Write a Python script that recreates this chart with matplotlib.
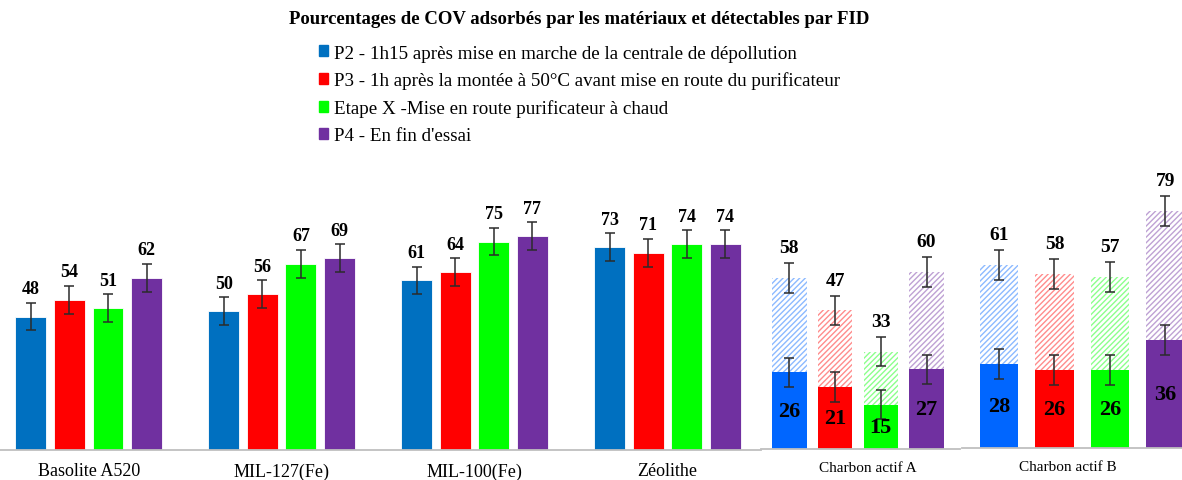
import matplotlib.pyplot as plt
from matplotlib.patches import Patch

plt.rcParams['font.family'] = ['Liberation Serif', 'DejaVu Serif']
plt.rcParams['hatch.linewidth'] = 1.0

# pourcentages par matériau et par prélèvement
materials = ['Basolite A520', 'MIL-127(Fe)', 'MIL-100(Fe)', 'Zéolithe']
p2 = [48, 50, 61, 73]
p3 = [54, 56, 64, 71]
etape_x = [51, 67, 75, 74]
p4 = [62, 69, 77, 74]

# charbons actifs : total adsorbé et part détectable par FID
charbons = ['Charbon actif A', 'Charbon actif B']
charbon_total = [[58, 47, 33, 60], [61, 58, 57, 79]]
charbon_fid = [[26, 21, 15, 27], [28, 26, 26, 36]]
err = 5

series = [
    'P2 - 1h15 après mise en marche de la centrale de dépollution',
    'P3 - 1h après la montée à 50°C avant mise en route du purificateur',
    'Etape X -Mise en route purificateur à chaud',
    "P4 - En fin d'essai",
]
colors = ['#0070C0', '#FF0000', '#00FF00', '#7030A0']
colors_charbon = ['#0066FF', '#FF0000', '#00FF00', '#7030A0']

W, H = 1182, 481
fig = plt.figure(figsize=(W / 100, H / 100), dpi=100)


def add_panel(x0, x1, base, top):
    ax = fig.add_axes([x0 / W, (H - base) / H, (x1 - x0) / W, (base - top) / H])
    for s in ['left', 'right', 'top']:
        ax.spines[s].set_visible(False)
    ax.spines['bottom'].set_color('#BFBFBF')
    ax.spines['bottom'].set_linewidth(1.3)
    ax.set_yticks([])
    ax.tick_params(axis='x', length=0, pad=9)
    ax.patch.set_alpha(0)
    return ax


ebar = dict(fmt='none', ecolor='#2b2b2b', elinewidth=1.1, capsize=3.5, capthick=1.1)

# matériaux poreux
ax = add_panel(0, 761, 451, 160)
offsets = [-0.3, -0.1, 0.1, 0.3]
for vals, off, c in zip([p2, p3, etape_x, p4], offsets, colors):
    xs = [i + off for i in range(len(materials))]
    ax.bar(xs, vals, 0.16, color=c, edgecolor='white', linewidth=0.6)
    ax.errorbar(xs, vals, yerr=err, **ebar)
    for x, v in zip(xs, vals):
        ax.annotate(str(v), (x, v + err), xytext=(0, 4), textcoords='offset points',
                    ha='center', va='bottom', fontsize=13, fontweight='bold')
ax.set_xlim(-0.46, 3.485)
ax.set_ylim(0, 104.7)
ax.set_xticks(range(len(materials)))
ax.set_xticklabels(materials, fontsize=13)

# charbons actifs
panels = [(761, 960, 450, 160, (-0.62, 3.73), 98.3, 0.755, 1.72),
          (962, 1182, 449, 160, (-0.667, 3.30), 96.3, 0.69, 1.24)]
for name, totals, fids, (x0, x1, base, top, xl, ymax, bw, lx) in zip(
        charbons, charbon_total, charbon_fid, panels):
    ax = add_panel(x0, x1, base, top)
    xs = list(range(len(totals)))
    for x, t, f, c in zip(xs, totals, fids, colors_charbon):
        ax.bar(x, t, bw, color='white', edgecolor=c, hatch='//////', linewidth=0, alpha=0.45)
        ax.bar(x, f, bw, color=c, linewidth=0)
        ax.errorbar([x, x], [t, f], yerr=err, **ebar)
        ax.annotate(str(t), (x, t + err), xytext=(0, 5), textcoords='offset points',
                    ha='center', va='bottom', fontsize=14, fontweight='bold')
        ax.text(x, f / 2, str(f), ha='center', va='center', fontsize=16, fontweight='bold')
    ax.set_xlim(*xl)
    ax.set_ylim(0, ymax)
    ax.set_xticks([lx])
    ax.set_xticklabels([name], fontsize=11)

fig.text(0.49, 1 - 19 / H, 'Pourcentages de COV adsorbés par les matériaux et détectables par FID',
         ha='center', va='center', fontsize=13.5, fontweight='bold')
handles = [Patch(color=c) for c in colors]
fig.legend(handles, series, loc='upper left', bbox_to_anchor=(311 / W, 1 - 38 / H),
           frameon=False, fontsize=13.7, handlelength=0.5, handleheight=0.5,
           handletextpad=0.3, labelspacing=0.52, borderaxespad=0)

fig.savefig('out.png', dpi=100)
